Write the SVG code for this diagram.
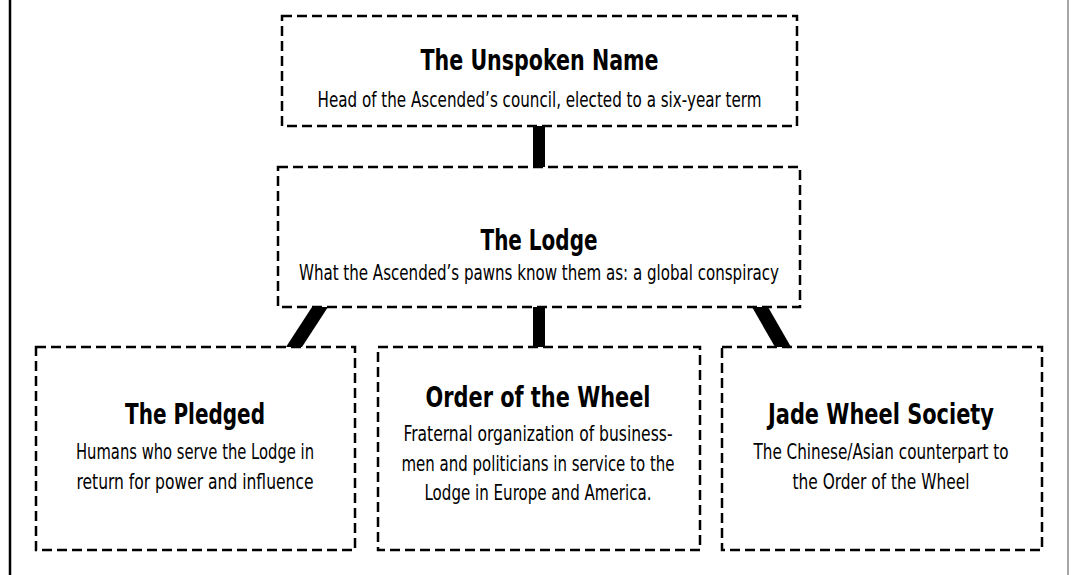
<svg xmlns="http://www.w3.org/2000/svg" width="1071" height="575" viewBox="0 0 1071 575">
<style>
.box{fill:#fff;stroke:#000;stroke-width:2.5;stroke-dasharray:10 5}
.t{font-family:"Liberation Sans Narrow","DejaVu Sans Condensed","Liberation Sans",sans-serif;font-weight:bold;font-size:29px;fill:#000;text-anchor:middle}
.s{font-family:"Liberation Sans Narrow","DejaVu Sans Condensed","Liberation Sans",sans-serif;font-size:21px;fill:#000;text-anchor:middle}
.c{fill:#000}
</style>
<rect x="0" y="0" width="1071" height="575" fill="#fff"/>
<line x1="10" y1="0" x2="10" y2="575" stroke="#000" stroke-width="2.5"/>
<line x1="1068" y1="0" x2="1068" y2="575" stroke="#888" stroke-width="1.5"/>
<g id="connectors">
<rect class="c" x="533" y="124" width="12" height="45"/>
<rect class="c" x="533" y="305" width="12" height="44"/>
<polygon class="c" points="312,307 328,307 302,347 286,347"/>
<polygon class="c" points="752,307 768,307 791,347 775,347"/>
</g>
<g id="unspoken-name">
<rect class="box" x="282" y="16" width="515" height="110"/>
<text class="t" x="539.5" y="70" textLength="238" lengthAdjust="spacingAndGlyphs">The Unspoken Name</text>
<text class="s" x="539.5" y="107" textLength="444" lengthAdjust="spacingAndGlyphs">Head of the Ascended’s council, elected to a six-year term</text>
</g>
<g id="lodge">
<rect class="box" x="278" y="167" width="522" height="140"/>
<text class="t" x="539" y="250" textLength="117" lengthAdjust="spacingAndGlyphs">The Lodge</text>
<text class="s" x="539" y="280" textLength="480" lengthAdjust="spacingAndGlyphs">What the Ascended’s pawns know them as: a global conspiracy</text>
</g>
<g id="pledged">
<rect class="box" x="36" y="347" width="319" height="203"/>
<text class="t" x="195" y="424" textLength="140" lengthAdjust="spacingAndGlyphs">The Pledged</text>
<text class="s" x="195" y="459" textLength="238" lengthAdjust="spacingAndGlyphs">Humans who serve the Lodge in</text>
<text class="s" x="195" y="489" textLength="237" lengthAdjust="spacingAndGlyphs">return for power and influence</text>
</g>
<g id="order-of-the-wheel">
<rect class="box" x="378" y="347" width="322" height="203"/>
<text class="t" x="538" y="407" textLength="225" lengthAdjust="spacingAndGlyphs">Order of the Wheel</text>
<text class="s" x="538" y="441" textLength="269" lengthAdjust="spacingAndGlyphs">Fraternal organization of business-</text>
<text class="s" x="538" y="471" textLength="273" lengthAdjust="spacingAndGlyphs">men and politicians in service to the</text>
<text class="s" x="538" y="500" textLength="227" lengthAdjust="spacingAndGlyphs">Lodge in Europe and America.</text>
</g>
<g id="jade-wheel-society">
<rect class="box" x="722" y="347" width="320" height="203"/>
<text class="t" x="881" y="424" textLength="226" lengthAdjust="spacingAndGlyphs">Jade Wheel Society</text>
<text class="s" x="881" y="459" textLength="255" lengthAdjust="spacingAndGlyphs">The Chinese/Asian counterpart to</text>
<text class="s" x="881" y="489" textLength="177" lengthAdjust="spacingAndGlyphs">the Order of the Wheel</text>
</g>
</svg>
